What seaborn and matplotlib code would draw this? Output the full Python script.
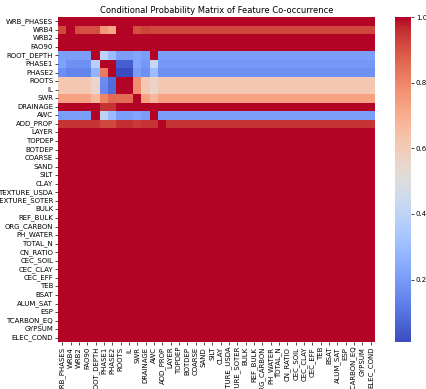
import numpy as np
import pandas as pd
import matplotlib
matplotlib.use("Agg")
import matplotlib.pyplot as plt
import seaborn as sns

features = [
    "WRB_PHASES", "WRB4", "WRB2", "FAO90", "ROOT_DEPTH", "PHASE1", "PHASE2",
    "ROOTS", "IL", "SWR", "DRAINAGE", "AWC", "ADD_PROP", "LAYER", "TOPDEP",
    "BOTDEP", "COARSE", "SAND", "SILT", "CLAY", "TEXTURE_USDA", "TEXTURE_SOTER",
    "BULK", "REF_BULK", "ORG_CARBON", "PH_WATER", "TOTAL_N", "CN_RATIO",
    "CEC_SOIL", "CEC_CLAY", "CEC_EFF", "TEB", "BSAT", "ALUM_SAT", "ESP",
    "TCARBON_EQ", "GYPSUM", "ELEC_COND",
]

# Conditional probabilities for the sparsely filled features, against the
# first 13 features (WRB_PHASES .. ADD_PROP); later columns use the row's tail value.
wrb_phases = [1.00, 1.00, 1.00, 1.00, 1.00, 1.00, 1.00, 1.00, 1.00, 1.00, 1.00, 1.00, 1.00]
wrb4       = [0.92, 1.00, 0.91, 0.91, 0.91, 0.76, 0.72, 1.00, 1.00, 0.91, 0.93, 0.92, 0.92]
wrb2       = [1.00, 1.00, 1.00, 1.00, 1.00, 1.00, 1.00, 1.00, 1.00, 1.00, 1.00, 1.00, 1.00]
fao90      = [1.00, 1.00, 1.00, 1.00, 1.00, 1.00, 1.00, 1.00, 1.00, 1.00, 1.00, 1.00, 1.00]
root_depth = [0.21, 0.21, 0.21, 0.21, 1.00, 0.40, 0.30, 0.21, 0.21, 0.23, 0.21, 1.00, 0.21]
phase1     = [0.22, 0.17, 0.17, 0.17, 0.38, 1.00, 1.00, 0.05, 0.05, 0.23, 0.19, 0.43, 0.19]
phase2     = [0.17, 0.14, 0.14, 0.14, 0.27, 0.82, 1.00, 0.01, 0.01, 0.21, 0.17, 0.30, 0.17]
roots      = [0.62, 0.62, 0.62, 0.62, 0.55, 0.16, 0.08, 1.00, 1.00, 0.78, 0.62, 0.56, 0.62]
il         = [0.62, 0.62, 0.62, 0.62, 0.55, 0.15, 0.08, 1.00, 1.00, 0.78, 0.62, 0.56, 0.62]
swr        = [0.73, 0.73, 0.73, 0.73, 0.67, 0.80, 0.86, 0.85, 0.85, 1.00, 0.73, 0.67, 0.73]
drainage   = [1.00, 1.00, 1.00, 1.00, 1.00, 0.95, 0.95, 1.00, 1.00, 1.00, 1.00, 1.00, 1.00]
awc        = [0.21, 0.21, 0.21, 0.21, 1.00, 0.40, 0.30, 0.21, 0.21, 0.23, 0.21, 1.00, 0.21]
add_prop   = [0.95, 0.95, 0.95, 0.95, 0.95, 0.92, 0.92, 0.96, 0.96, 0.94, 0.95, 0.95, 1.00]

# value of each partial row across the always-present features (LAYER .. ELEC_COND)
tail_values = [1.00, 0.92, 1.00, 1.00, 0.21, 0.19, 0.17, 0.62, 0.62, 0.73, 1.00, 0.21, 0.95]
# rows for the always-present features are 1.0 everywhere
full_row_value = 1.00

partial_rows = [wrb_phases, wrb4, wrb2, fao90, root_depth, phase1, phase2,
                roots, il, swr, drainage, awc, add_prop]

n = len(features)
rows = []
for head, tail in zip(partial_rows, tail_values):
    rows.append(list(head) + [tail] * (n - len(head)))
for _ in range(n - len(partial_rows)):
    rows.append([full_row_value] * n)

df = pd.DataFrame(rows, index=features, columns=features)

W, H = 426, 389
fig = plt.figure(figsize=(W / 100, H / 100), dpi=100)
ax = fig.add_axes([58 / W, 1 - 342 / H, 317 / W, 325 / H])
cax = fig.add_axes([395 / W, 1 - 342 / H, 16 / W, 325 / H])

sns.heatmap(df, cmap="coolwarm", ax=ax, cbar_ax=cax,
            xticklabels=True, yticklabels=True)

ax.set_title("Conditional Probability Matrix of Feature Co-occurrence",
             fontsize=6, pad=3)
ax.tick_params(axis="both", labelsize=5, length=2, width=0.5, pad=1.5)
ax.set_xticklabels(ax.get_xticklabels(), rotation=90)
ax.set_yticklabels(ax.get_yticklabels(), rotation=0)
cax.tick_params(labelsize=5, length=2, width=0.5, pad=1.5)
for s in cax.spines.values():
    s.set_visible(False)

fig.savefig("out.png", dpi=100)
